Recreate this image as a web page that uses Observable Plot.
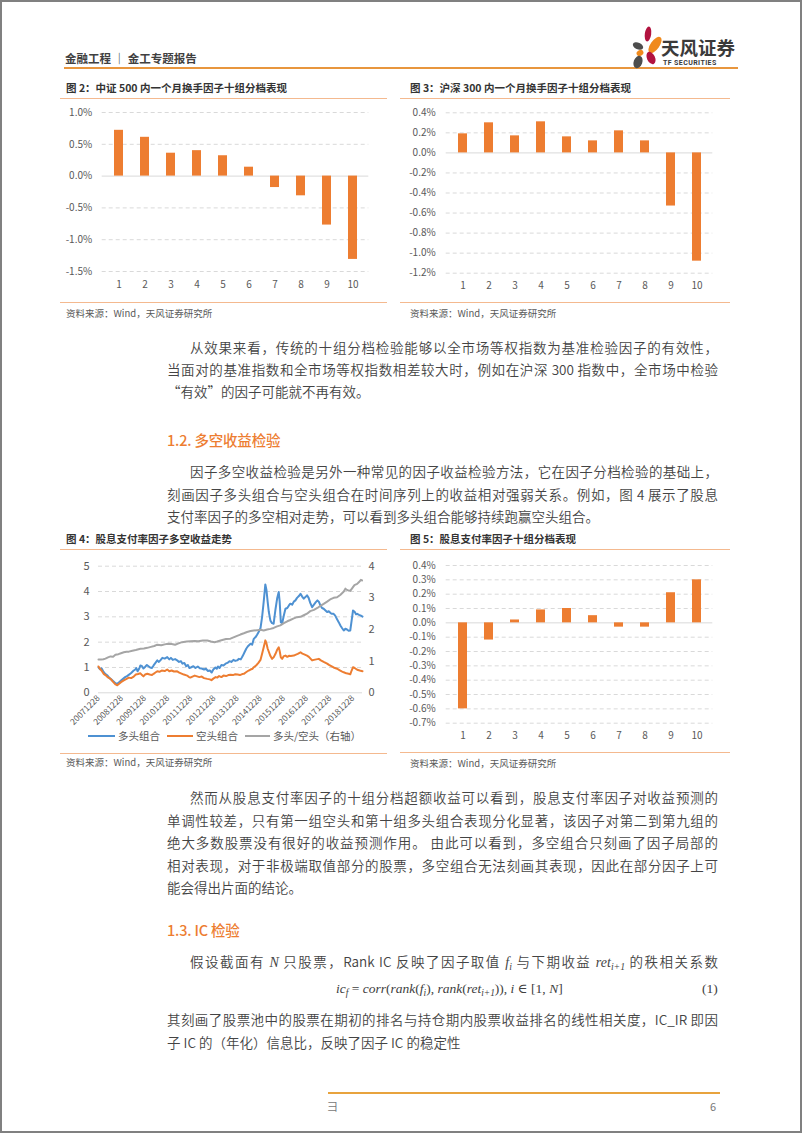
<!DOCTYPE html>
<html><head><meta charset="utf-8">
<script src="https://cdn.jsdelivr.net/npm/d3@7"></script>
<script src="https://cdn.jsdelivr.net/npm/@observablehq/plot@0.6"></script>
<style>
body{margin:0;background:#fff;}
#page{position:relative;width:802px;height:1133px;overflow:hidden;font-family:"Noto Sans CJK SC","Noto Sans",sans-serif;color:#404040;background:#fff;}
#border{position:absolute;left:0;top:0;width:802px;height:1133px;box-sizing:border-box;border:2px solid #808080;pointer-events:none;}
.abs{position:absolute;white-space:nowrap;}
.ln{position:absolute;height:22px;line-height:22px;font-size:13.5px;color:#444;font-weight:350;text-align:justify;text-align-last:justify;}
.last{text-align-last:left;}
.h2{position:absolute;font-size:14.5px;color:#ED7D31;font-weight:500;line-height:24px;white-space:nowrap;letter-spacing:-0.2px;}
.ftitle{position:absolute;font-size:10.5px;font-weight:700;color:#333;line-height:14px;white-space:nowrap;}
.fsrc{position:absolute;font-size:9.5px;color:#595959;line-height:14px;white-space:nowrap;}
.hline{position:absolute;height:1px;background:#F4B98F;}
.m{font-family:"Liberation Serif","DejaVu Serif",serif;font-style:italic;font-size:14px;}
sub{font-size:70%;line-height:0;vertical-align:-0.35em;}
.chart{position:absolute;}
.chart svg{overflow:visible;}
.leg{position:absolute;font-size:10.5px;color:#595959;line-height:14px;white-space:nowrap;}
.sw{position:absolute;height:2px;}
</style></head>
<body>
<div id="page">
  <!-- header -->
  <div class="abs" style="left:65px;top:49px;font-size:11.5px;font-weight:700;color:#404040;line-height:18px;">金融工程 ｜ 金工专题报告</div>
  <div class="abs" style="left:64px;top:67px;width:674px;height:2px;background:#E8963E;"></div>
  <svg class="abs" style="left:630px;top:25px;" width="32" height="46" viewBox="0 0 32 46">
    <ellipse cx="18" cy="9" rx="3.2" ry="7.5" fill="#B2133F" transform="rotate(8 18 9)"/>
    <ellipse cx="25" cy="20" rx="4.5" ry="9.5" fill="#F08A1D" transform="rotate(35 25 20)"/>
    <ellipse cx="8" cy="21" rx="5.5" ry="3.4" fill="#4D4D4D" transform="rotate(25 8 21)"/>
    <ellipse cx="10" cy="28" rx="3.6" ry="2.8" fill="#F08A1D" transform="rotate(-30 10 28)"/>
    <ellipse cx="21" cy="33" rx="4" ry="6.5" fill="#B2133F" transform="rotate(-25 21 33)"/>
    <ellipse cx="8" cy="37" rx="4.3" ry="6.5" fill="#4D4D4D" transform="rotate(20 8 37)"/>
  </svg>
  <div class="abs" style="left:661px;top:36px;font-size:18.5px;font-weight:700;color:#3a3a3a;line-height:22px;">天风证券</div>
  <div class="abs" style="left:663px;top:59px;font-size:7px;font-weight:700;color:#3a3a3a;line-height:8px;letter-spacing:0.4px;font-family:Roboto,sans-serif;">TF SECURITIES</div>

  <!-- figure 2 & 3 -->
  <div class="ftitle" style="left:66px;top:81px;">图 2：中证 500 内一个月换手因子十组分档表现</div>
  <div class="hline" style="left:60px;top:98px;width:327px;"></div>
  <div class="chart" id="fig2" style="left:50px;top:100px;"></div>
  <div class="hline" style="left:60px;top:302px;width:327px;"></div>
  <div class="fsrc" style="left:66px;top:306px;">资料来源：Wind，天风证券研究所</div>

  <div class="ftitle" style="left:410px;top:81px;">图 3：沪深 300 内一个月换手因子十组分档表现</div>
  <div class="hline" style="left:400px;top:98px;width:330px;"></div>
  <div class="chart" id="fig3" style="left:400px;top:100px;"></div>
  <div class="hline" style="left:400px;top:302px;width:330px;"></div>
  <div class="fsrc" style="left:410px;top:306px;">资料来源：Wind，天风证券研究所</div>

  <!-- paragraph 1 -->
  <div class="ln" style="left:190px;width:528px;top:336px;">从效果来看，传统的十组分档检验能够以全市场等权指数为基准检验因子的有效性，</div>
  <div class="ln" style="left:167px;width:551px;top:358px;">当面对的基准指数和全市场等权指数相差较大时，例如在沪深 300 指数中，全市场中检验</div>
  <div class="ln last" style="left:167px;width:551px;top:380px;">“有效”的因子可能就不再有效。</div>

  <div class="h2" style="left:167px;top:428px;">1.2. 多空收益检验</div>

  <div class="ln" style="left:190px;width:528px;top:460px;">因子多空收益检验是另外一种常见的因子收益检验方法，它在因子分档检验的基础上，</div>
  <div class="ln" style="left:167px;width:551px;top:483px;">刻画因子多头组合与空头组合在时间序列上的收益相对强弱关系。例如，图 4 展示了股息</div>
  <div class="ln last" style="left:167px;width:551px;top:505px;">支付率因子的多空相对走势，可以看到多头组合能够持续跑赢空头组合。</div>

  <!-- figure 4 & 5 -->
  <div class="ftitle" style="left:66px;top:532px;">图 4：股息支付率因子多空收益走势</div>
  <div class="hline" style="left:60px;top:549px;width:327px;"></div>
  <div class="chart" id="fig4" style="left:50px;top:550px;"></div>
  <div class="sw" style="left:88px;top:735px;width:27px;background:#4E91D2;"></div>
  <div class="leg" style="left:118px;top:729px;">多头组合</div>
  <div class="sw" style="left:167px;top:735px;width:26px;background:#ED7D31;"></div>
  <div class="leg" style="left:196px;top:729px;">空头组合</div>
  <div class="sw" style="left:245px;top:735px;width:25px;background:#A5A5A5;"></div>
  <div class="leg" style="left:273px;top:729px;">多头/空头（右轴）</div>
  <div class="hline" style="left:60px;top:753px;width:327px;"></div>
  <div class="fsrc" style="left:66px;top:755px;">资料来源：Wind，天风证券研究所</div>

  <div class="ftitle" style="left:410px;top:532px;">图 5：股息支付率因子十组分档表现</div>
  <div class="hline" style="left:400px;top:549px;width:330px;"></div>
  <div class="chart" id="fig5" style="left:400px;top:550px;"></div>
  <div class="hline" style="left:400px;top:752px;width:330px;"></div>
  <div class="fsrc" style="left:410px;top:756px;">资料来源：Wind，天风证券研究所</div>

  <!-- paragraph 3 -->
  <div class="ln" style="left:190px;width:528px;top:786px;">然而从股息支付率因子的十组分档超额收益可以看到，股息支付率因子对收益预测的</div>
  <div class="ln" style="left:167px;width:551px;top:809px;">单调性较差，只有第一组空头和第十组多头组合表现分化显著，该因子对第二到第九组的</div>
  <div class="ln" style="left:167px;width:551px;top:831px;">绝大多数股票没有很好的收益预测作用。 由此可以看到，多空组合只刻画了因子局部的</div>
  <div class="ln" style="left:167px;width:551px;top:854px;">相对表现，对于非极端取值部分的股票，多空组合无法刻画其表现，因此在部分因子上可</div>
  <div class="ln last" style="left:167px;width:551px;top:876px;">能会得出片面的结论。</div>

  <div class="h2" style="left:167px;top:918px;">1.3. IC 检验</div>

  <div class="ln" style="left:190px;width:528px;top:950px;">假设截面有 <span class="m">N</span> 只股票，Rank IC 反映了因子取值 <span class="m">f<sub>i</sub></span> 与下期收益 <span class="m">ret<sub>i+1</sub></span> 的秩相关系数</div>
  <div class="abs" style="left:336px;top:978px;line-height:22px;font-family:'Liberation Serif','DejaVu Serif',serif;font-size:13.5px;color:#404040;"><i>ic<sub>f</sub></i> = <i>corr</i>(<i>rank</i>(<i>f<sub>i</sub></i>), <i>rank</i>(<i>ret<sub>i+1</sub></i>)), <i>i</i> ∈ [1, <i>N</i>]</div>
  <div class="abs" style="left:702px;top:978px;line-height:22px;font-family:'Liberation Serif','DejaVu Serif',serif;font-size:13.5px;color:#404040;">(1)</div>
  <div class="ln" style="left:167px;width:551px;top:1008px;">其刻画了股票池中的股票在期初的排名与持仓期内股票收益排名的线性相关度，IC_IR 即因</div>
  <div class="ln last" style="left:167px;width:551px;top:1031px;">子 IC 的（年化）信息比，反映了因子 IC 的稳定性</div>

  <!-- footer -->
  <div class="abs" style="left:328px;top:1092px;width:392px;height:2px;background:#E8A33D;"></div>
  <div class="abs" style="left:327px;top:1099px;font-size:11px;color:#777;line-height:14px;">彐</div>
  <div class="abs" style="left:710px;top:1099px;font-size:11px;color:#777;line-height:14px;">6</div>
  <div id="border"></div>
</div>

<script>
// ---------- data ----------
const groups = [1, 2, 3, 4, 5, 6, 7, 8, 9, 10];
const csi500Returns = [0.72, 0.61, 0.36, 0.40, 0.32, 0.14, -0.18, -0.31, -0.77, -1.31];
const hs300Returns = [0.19, 0.30, 0.17, 0.31, 0.16, 0.12, 0.22, 0.12, -0.53, -1.08];
const payoutReturns = [-0.60, -0.12, 0.02, 0.09, 0.10, 0.05, -0.03, -0.03, 0.21, 0.30];
const fig2Ticks = [-1.5, -1.0, -0.5, 0, 0.5, 1.0];
const fig3Ticks = [-1.2, -1.0, -0.8, -0.6, -0.4, -0.2, 0, 0.2, 0.4];
const fig5Ticks = [-0.7, -0.6, -0.5, -0.4, -0.3, -0.2, -0.1, 0, 0.1, 0.2, 0.3, 0.4];

const fig4DateLabels = ["20071228","20081228","20091228","20101228","20111228","20121228","20131228","20141228","20151228","20161228","20171228","20181228"];
const fig4LeftTicks = [0, 1, 2, 3, 4, 5];
const fig4RightTicks = [0, 1, 2, 3, 4];
const fig4Start = 2007.99, fig4End = 2019.40;

// long portfolio (decimal year, value)
const longTimes = [2007.99,2008.05,2008.12,2008.21,2008.29,2008.38,2008.47,2008.55,2008.64,2008.72,2008.80,2008.88,2008.96,2009.05,2009.14,2009.22,2009.31,2009.40,2009.51,2009.58,2009.62,2009.68,2009.75,2009.80,2009.87,2009.93,2010.00,2010.08,2010.15,2010.22,2010.30,2010.37,2010.45,2010.53,2010.60,2010.68,2010.75,2010.85,2010.96,2011.05,2011.12,2011.20,2011.30,2011.39,2011.47,2011.55,2011.62,2011.70,2011.78,2011.85,2011.92,2012.00,2012.09,2012.18,2012.28,2012.37,2012.45,2012.55,2012.63,2012.72,2012.80,2012.88,2012.95,2013.04,2013.10,2013.15,2013.22,2013.30,2013.39,2013.48,2013.56,2013.65,2013.73,2013.82,2013.90,2013.98,2014.06,2014.14,2014.22,2014.30,2014.38,2014.46,2014.56,2014.63,2014.70,2014.78,2014.85,2014.91,2014.99,2015.06,2015.13,2015.20,2015.25,2015.30,2015.35,2015.42,2015.49,2015.56,2015.64,2015.71,2015.78,2015.82,2015.87,2015.93,2016.00,2016.07,2016.15,2016.22,2016.28,2016.36,2016.43,2016.50,2016.57,2016.65,2016.72,2016.79,2016.86,2016.93,2017.00,2017.07,2017.14,2017.22,2017.30,2017.38,2017.45,2017.51,2017.58,2017.65,2017.72,2017.80,2017.87,2017.94,2018.02,2018.08,2018.15,2018.22,2018.30,2018.37,2018.45,2018.52,2018.59,2018.66,2018.73,2018.80,2018.87,2018.93,2018.99,2019.06,2019.12,2019.17,2019.25,2019.33,2019.40];
const longValues = [1.00,0.93,0.97,0.82,0.74,0.68,0.58,0.52,0.45,0.38,0.36,0.42,0.48,0.55,0.62,0.66,0.72,0.78,0.88,0.92,0.98,0.85,0.96,1.08,1.05,0.96,1.02,1.10,1.05,1.00,0.98,1.08,1.18,1.28,1.22,1.30,1.38,1.35,1.41,1.32,1.38,1.30,1.33,1.28,1.22,1.25,1.15,1.18,1.05,1.10,0.98,1.01,1.05,0.98,1.04,0.97,0.96,0.92,0.95,0.86,0.88,0.80,0.92,1.00,0.95,1.04,0.98,1.10,1.08,1.15,1.18,1.25,1.22,1.30,1.26,1.28,1.34,1.32,1.45,1.60,1.75,1.85,1.94,1.90,2.13,2.20,2.30,2.40,2.55,2.99,3.60,4.28,4.05,3.60,3.20,2.85,2.75,2.73,3.30,3.72,3.98,3.60,2.79,2.75,3.05,3.32,3.35,3.45,3.52,3.48,3.60,3.65,3.75,3.82,3.91,3.80,3.72,3.78,3.85,3.75,3.55,3.38,3.48,3.58,3.65,3.60,3.45,3.35,3.32,3.25,3.19,3.22,3.15,3.12,3.12,3.05,2.90,2.79,2.65,2.55,2.46,2.53,2.50,2.45,2.46,2.85,3.25,3.20,3.10,3.12,3.08,3.05,3.01];

// short portfolio
const shortTimes = [2007.99,2008.05,2008.12,2008.21,2008.29,2008.38,2008.51,2008.60,2008.72,2008.80,2008.88,2008.96,2009.08,2009.20,2009.30,2009.40,2009.51,2009.60,2009.70,2009.80,2009.87,2009.93,2010.00,2010.10,2010.20,2010.30,2010.37,2010.45,2010.53,2010.62,2010.72,2010.85,2010.96,2011.05,2011.15,2011.25,2011.39,2011.48,2011.58,2011.68,2011.82,2011.90,2011.96,2012.05,2012.15,2012.25,2012.35,2012.45,2012.55,2012.69,2012.80,2012.87,2012.95,2013.05,2013.12,2013.20,2013.30,2013.39,2013.50,2013.60,2013.69,2013.80,2013.90,2014.00,2014.10,2014.20,2014.27,2014.38,2014.48,2014.56,2014.65,2014.70,2014.80,2014.90,2014.99,2015.06,2015.13,2015.20,2015.25,2015.30,2015.35,2015.42,2015.49,2015.56,2015.64,2015.71,2015.78,2015.82,2015.87,2015.93,2016.00,2016.07,2016.15,2016.22,2016.30,2016.43,2016.50,2016.60,2016.72,2016.80,2016.88,2017.00,2017.08,2017.15,2017.22,2017.30,2017.40,2017.51,2017.60,2017.72,2017.87,2017.95,2018.05,2018.15,2018.30,2018.40,2018.50,2018.59,2018.70,2018.80,2018.87,2018.93,2018.99,2019.06,2019.17,2019.28,2019.40];
const shortValues = [1.04,0.95,0.88,0.75,0.70,0.62,0.55,0.45,0.33,0.30,0.36,0.42,0.49,0.55,0.60,0.58,0.64,0.72,0.74,0.77,0.70,0.65,0.72,0.75,0.72,0.70,0.75,0.80,0.85,0.83,0.88,0.86,0.92,0.85,0.88,0.84,0.85,0.80,0.76,0.72,0.68,0.62,0.60,0.64,0.68,0.65,0.62,0.64,0.58,0.55,0.53,0.50,0.56,0.62,0.60,0.66,0.62,0.68,0.66,0.70,0.71,0.70,0.73,0.72,0.70,0.74,0.75,0.82,0.88,0.92,0.95,1.01,1.08,1.18,1.30,1.54,1.80,2.07,1.95,1.75,1.62,1.45,1.34,1.40,1.54,1.70,1.80,1.65,1.40,1.34,1.45,1.47,1.42,1.46,1.45,1.47,1.50,1.54,1.60,1.55,1.52,1.47,1.42,1.35,1.28,1.30,1.32,1.34,1.28,1.22,1.15,1.10,1.05,1.00,0.95,0.90,0.85,0.81,0.77,0.75,0.73,0.88,1.01,0.98,0.91,0.88,0.85];

// long / short ratio (right axis)
const ratioTimes = [2007.99,2008.10,2008.20,2008.29,2008.40,2008.51,2008.62,2008.72,2008.85,2008.96,2009.08,2009.20,2009.30,2009.45,2009.60,2009.80,2009.95,2010.10,2010.25,2010.40,2010.53,2010.70,2010.85,2011.00,2011.15,2011.30,2011.45,2011.60,2011.80,2011.96,2012.15,2012.30,2012.50,2012.69,2012.85,2013.00,2013.12,2013.30,2013.50,2013.69,2013.85,2013.98,2014.12,2014.27,2014.41,2014.56,2014.70,2014.85,2014.99,2015.13,2015.28,2015.42,2015.56,2015.71,2015.85,2016.00,2016.15,2016.28,2016.43,2016.57,2016.72,2016.86,2017.00,2017.14,2017.30,2017.45,2017.58,2017.72,2017.87,2018.00,2018.15,2018.30,2018.45,2018.59,2018.66,2018.73,2018.80,2018.87,2018.95,2019.05,2019.17,2019.25,2019.33,2019.38];
const ratioValues = [1.05,1.05,1.06,1.08,1.12,1.15,1.14,1.20,1.22,1.25,1.28,1.30,1.30,1.33,1.35,1.39,1.40,1.42,1.45,1.48,1.52,1.50,1.53,1.55,1.54,1.52,1.56,1.60,1.62,1.63,1.64,1.63,1.65,1.65,1.62,1.60,1.62,1.66,1.70,1.71,1.76,1.80,1.84,1.88,1.92,1.95,1.97,1.98,1.99,1.97,2.00,2.02,2.05,2.10,2.13,2.20,2.26,2.30,2.35,2.39,2.40,2.45,2.50,2.58,2.62,2.68,2.75,2.81,2.88,2.95,3.00,3.02,3.10,3.20,3.29,3.25,3.23,3.22,3.30,3.40,3.44,3.50,3.57,3.55];

// ---------- helpers ----------
const FONT = "'Noto Sans CJK SC','Noto Sans',sans-serif";
function decToDate(t) {
  const y = Math.floor(t);
  const s = Date.UTC(y, 0, 1), e = Date.UTC(y + 1, 0, 1);
  return new Date(s + (t - y) * (e - s));
}
const parseLabel = d3.utcParse("%Y%m%d");
const pct = d => d.toFixed(1) + "%";

function barChart(values, ticks, m, padL) {
  const data = groups.map((g, i) => ({group: g, value: values[i]}));
  return Plot.plot({
    width: 330, height: 200,
    marginTop: m.t, marginBottom: m.b, marginLeft: m.l, marginRight: m.r,
    style: {fontFamily: FONT, fontSize: "10px", color: "#595959", background: "transparent"},
    x: {type: "band", domain: groups, paddingInner: 0.66, paddingOuter: 0.33, label: null},
    y: {domain: [ticks[0], ticks[ticks.length - 1]], label: null},
    marks: [
      Plot.gridY(ticks.filter(t => t !== 0), {stroke: "#d9d9d9", strokeOpacity: 1, strokeDasharray: "4,3"}),
      Plot.ruleY([0], {stroke: "#d9d9d9", strokeWidth: 1}),
      Plot.barY(data, {x: "group", y: "value", fill: "#ED7D31"}),
      Plot.axisY(ticks, {tickSize: 0, tickPadding: padL, tickFormat: pct, label: null}),
      Plot.axisX({tickSize: 0, tickPadding: 9, label: null})
    ]
  });
}

document.getElementById("fig2").append(
  barChart(csi500Returns, fig2Ticks, {t: 12, b: 29, l: 51.7, r: 11.7}, 10));
document.getElementById("fig3").append(
  barChart(hs300Returns, fig3Ticks, {t: 12.3, b: 27.3, l: 45.7, r: 17.7}, 10.5));
document.getElementById("fig5").append(
  barChart(payoutReturns, fig5Ticks, {t: 15, b: 27.3, l: 45.7, r: 17.7}, 10.5));

// ---------- figure 4 ----------
const rightScale = 5 / 4;
const toRows = (ts, vs) => ts.map((t, i) => ({date: decToDate(t), value: vs[i]}));
const longRows = toRows(longTimes, longValues);
const shortRows = toRows(shortTimes, shortValues);
const ratioRows = toRows(ratioTimes, ratioValues);
const tickDates = fig4DateLabels.map(parseLabel);

document.getElementById("fig4").append(Plot.plot({
  width: 330, height: 180,
  marginTop: 15.7, marginBottom: 37.7, marginLeft: 48, marginRight: 18,
  style: {fontFamily: FONT, fontSize: "11px", color: "#595959", background: "transparent"},
  x: {type: "utc", domain: [decToDate(fig4Start), decToDate(fig4End)], label: null},
  y: {domain: [0, 5], label: null},
  marks: [
    Plot.gridY(fig4LeftTicks.filter(t => t > 0), {stroke: "#d9d9d9", strokeOpacity: 1, strokeDasharray: "4,3"}),
    Plot.ruleY([0], {stroke: "#d9d9d9"}),
    Plot.lineY(longRows, {x: "date", y: "value", stroke: "#4E91D2", strokeWidth: 2}),
    Plot.lineY(shortRows, {x: "date", y: "value", stroke: "#ED7D31", strokeWidth: 2}),
    Plot.lineY(ratioRows, {x: "date", y: d => d.value * rightScale, stroke: "#A5A5A5", strokeWidth: 2}),
    Plot.axisY(fig4LeftTicks, {tickSize: 0, tickPadding: 9, label: null}),
    Plot.axisY(fig4RightTicks.map(v => v * rightScale), {anchor: "right", tickSize: 0, tickPadding: 6, label: null, tickFormat: d => String(Math.round(d / rightScale))}),
    Plot.axisX(tickDates, {tickSize: 0, tickPadding: 4, tickRotate: -45, fontSize: 8.5, label: null, tickFormat: d3.utcFormat("%Y%m%d")})
  ]
}));
</script>
</body></html>
